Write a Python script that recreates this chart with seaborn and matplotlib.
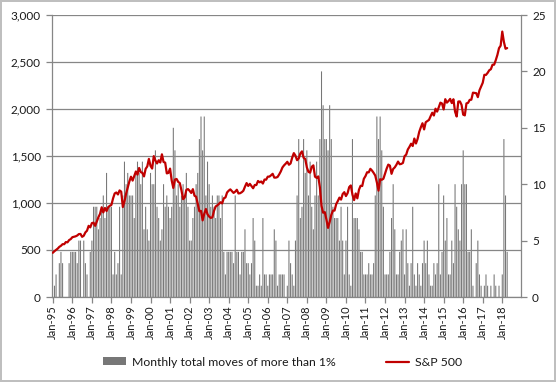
import numpy as np
import pandas as pd
import seaborn as sns
import matplotlib
matplotlib.use("Agg")
import matplotlib.pyplot as plt
from matplotlib.patches import Patch
from matplotlib.lines import Line2D
from matplotlib.ticker import FuncFormatter

# days per month with a move of more than 1%, Jan-95 .. Apr-18
moves = [
    0, 1, 2, 0, 3, 4, 3, 0, 0, 0, 3, 4,          # 1995
    4, 4, 4, 3, 5, 5, 0, 5, 3, 2, 0, 4,          # 1996
    5, 8, 8, 8, 6, 7, 8, 9, 7, 11, 8, 8,         # 1997
    8, 2, 4, 2, 3, 8, 2, 9, 12, 10, 11, 9,       # 1998
    9, 9, 7, 11, 12, 11, 10, 12, 6, 8, 6, 5,     # 1999
    11, 10, 10, 13, 8, 7, 5, 6, 10, 8, 9, 8,     # 2000
    7, 8, 15, 13, 9, 10, 8, 9, 10, 9, 11, 8,     # 2001
    5, 5, 7, 8, 10, 11, 14, 16, 13, 16, 9, 12,   # 2002
    10, 8, 9, 8, 7, 9, 9, 7, 9, 4, 2, 4,         # 2003
    4, 4, 4, 3, 9, 4, 4, 2, 4, 4, 6, 3,          # 2004
    3, 2, 3, 7, 5, 1, 1, 2, 1, 7, 2, 2,          # 2005
    1, 2, 2, 2, 6, 5, 1, 2, 2, 2, 2, 0,          # 2006
    1, 5, 3, 2, 1, 5, 9, 14, 7, 8, 14, 11,       # 2007
    13, 9, 12, 8, 6, 9, 12, 9, 14, 20, 17, 14,   # 2008
    14, 13, 17, 14, 8, 7, 7, 7, 5, 8, 5, 2,      # 2009
    5, 8, 2, 1, 14, 7, 7, 7, 6, 4, 4, 2,         # 2010
    2, 2, 3, 2, 2, 3, 9, 16, 14, 16, 13, 8,      # 2011
    2, 2, 2, 4, 7, 10, 6, 2, 2, 4, 5, 6,         # 2012
    2, 6, 3, 1, 3, 8, 2, 1, 3, 2, 1, 3,          # 2013
    5, 3, 5, 2, 1, 1, 3, 2, 3, 10, 2, 4,         # 2014
    9, 5, 7, 2, 2, 5, 3, 10, 8, 6, 5, 10,        # 2015
    13, 10, 10, 4, 4, 6, 1, 0, 3, 5, 2, 1,       # 2016
    0, 1, 2, 1, 0, 1, 0, 2, 1, 0, 1, 0,          # 2017
    2, 14, 9, 4,                                 # 2018
]

# S&P 500 month-end level
sp500 = [
    470.4, 487.4, 500.7, 514.7, 533.4, 544.8, 562.1, 561.9, 584.4, 581.5, 605.4, 615.9,
    636.0, 640.4, 645.5, 654.2, 669.1, 670.6, 639.9, 652.0, 687.3, 705.3, 757.0, 740.7,
    786.2, 790.8, 757.1, 801.3, 848.3, 885.1, 954.3, 899.5, 947.3, 914.6, 955.4, 970.4,
    980.3, 1049.3, 1101.8, 1111.8, 1090.8, 1133.8, 1120.7, 957.3, 1017.0, 1098.7, 1163.6, 1229.2,
    1279.6, 1238.3, 1286.4, 1335.2, 1301.8, 1372.7, 1328.7, 1320.4, 1282.7, 1362.9, 1388.9, 1469.3,
    1394.5, 1366.4, 1498.6, 1452.4, 1420.6, 1454.6, 1430.8, 1517.7, 1436.5, 1429.4, 1315.0, 1320.3,
    1366.0, 1239.9, 1160.3, 1249.5, 1255.8, 1224.4, 1211.2, 1133.6, 1040.9, 1059.8, 1139.5, 1148.1,
    1130.2, 1106.7, 1147.4, 1076.9, 1067.1, 989.8, 911.6, 916.1, 815.3, 885.8, 936.3, 879.8,
    855.7, 841.2, 848.2, 916.9, 963.6, 974.5, 990.3, 1008.0, 996.0, 1050.7, 1058.2, 1111.9,
    1131.1, 1144.9, 1126.2, 1107.3, 1120.7, 1140.8, 1101.7, 1104.2, 1114.6, 1130.2, 1173.8, 1211.9,
    1181.3, 1203.6, 1180.6, 1156.9, 1191.5, 1191.3, 1234.2, 1220.3, 1228.8, 1207.0, 1249.5, 1248.3,
    1280.1, 1280.7, 1294.8, 1310.6, 1270.1, 1270.2, 1276.7, 1303.8, 1335.9, 1377.9, 1400.6, 1418.3,
    1438.2, 1406.8, 1420.9, 1482.4, 1530.6, 1503.4, 1455.3, 1474.0, 1526.8, 1549.4, 1481.1, 1468.4,
    1378.6, 1330.6, 1322.7, 1385.6, 1400.4, 1280.0, 1267.4, 1282.8, 1166.4, 968.8, 896.2, 903.3,
    825.9, 735.1, 797.9, 872.8, 919.1, 919.3, 987.5, 1020.6, 1057.1, 1036.2, 1095.6, 1115.1,
    1073.9, 1104.5, 1169.4, 1186.7, 1089.4, 1030.7, 1101.6, 1049.3, 1141.2, 1183.3, 1180.6, 1257.6,
    1286.1, 1327.2, 1325.8, 1363.6, 1345.2, 1320.6, 1292.3, 1218.9, 1131.4, 1253.3, 1247.0, 1257.6,
    1312.4, 1365.7, 1408.5, 1397.9, 1310.3, 1362.2, 1379.3, 1406.6, 1440.7, 1412.2, 1416.2, 1426.2,
    1498.1, 1514.7, 1569.2, 1597.6, 1630.7, 1606.3, 1685.7, 1633.0, 1681.6, 1756.5, 1805.8, 1848.4,
    1782.6, 1859.5, 1872.3, 1884.0, 1923.6, 1960.2, 1930.7, 2003.4, 1972.3, 2018.1, 2067.6, 2058.9,
    1995.0, 2104.5, 2067.9, 2085.5, 2107.4, 2063.1, 2103.8, 1972.2, 1920.0, 2079.4, 2080.4, 2043.9,
    1940.2, 1932.2, 2059.7, 2065.3, 2097.0, 2098.9, 2173.6, 2171.0, 2168.3, 2126.2, 2198.8, 2238.8,
    2278.9, 2363.6, 2362.7, 2384.2, 2411.8, 2423.4, 2470.3, 2471.7, 2519.4, 2575.3, 2647.6, 2673.6,
    2823.8, 2713.8, 2640.9, 2648.1,
]

months = pd.date_range("1995-01-01", periods=len(moves), freq="MS")
month_labels = list(months.strftime("%b-%y"))
axis_months = 288  # date axis runs to Dec-18

df = pd.DataFrame({"pos": np.arange(len(moves)), "moves": moves, "sp500": sp500})

bar_col = "#777777"
line_col = "#C00000"
axis_col = "#868686"
text_col = "#1a1a1a"

sns.set_theme(style="white")
plt.rcParams["font.family"] = ["Lato", "DejaVu Sans"]

fig = plt.figure(figsize=(5.56, 3.82), dpi=100)
fig.patch.set_edgecolor("#bfbfbf")
fig.patch.set_linewidth(1.5)

ax = fig.add_axes([52 / 556, 85 / 382, 469 / 556, 282 / 382])
sns.barplot(data=df, x="pos", y="moves", color=bar_col, saturation=1,
            width=0.65, linewidth=0, ax=ax, zorder=2)
# bars are about one pixel wide, don't let them snap away
for p in ax.patches:
    p.set_snap(False)

ax2 = ax.twinx()
sns.lineplot(data=df, x="pos", y="sp500", color=line_col, linewidth=1.6, ax=ax2)

# bars belong to right axis, S&P to the left one
ax.yaxis.tick_right()
ax2.yaxis.tick_left()
ax.set_ylim(0, 25)
ax.set_yticks(range(0, 26, 5))
ax2.set_ylim(0, 3000)
ax2.set_yticks(range(0, 3001, 500))
ax2.yaxis.set_major_formatter(FuncFormatter(lambda v, p: f"{v:,.0f}"))
ax2.yaxis.grid(True, color=axis_col, linewidth=0.9)

ax.set_xlim(-0.5, axis_months - 0.5)
ax.set_xticks(range(0, axis_months - 11, 12))
ax.set_xticklabels(month_labels[::12], rotation=90)

for a in (ax, ax2):
    a.set_xlabel("")
    a.set_ylabel("")
    for s in a.spines.values():
        s.set_visible(False)
for s in ("left", "right", "bottom"):
    ax.spines[s].set_visible(True)
    ax.spines[s].set_color(axis_col)
    ax.spines[s].set_linewidth(0.9)

ax.tick_params(axis="x", bottom=True, direction="out", length=4, width=0.9,
               color=axis_col, labelsize=8, labelcolor=text_col, pad=2)
ax.tick_params(axis="y", right=True, left=False, labelright=True, labelleft=False,
               direction="out", length=4, width=0.9, color=axis_col,
               labelsize=8.5, labelcolor=text_col, pad=4)
ax2.tick_params(axis="y", left=True, right=False, labelleft=True, labelright=False,
                direction="out", length=4, width=0.9, color=axis_col,
                labelsize=8.5, labelcolor=text_col, pad=4)

handles = [Patch(facecolor=bar_col, edgecolor="none"),
           Line2D([0], [0], color=line_col, linewidth=1.6)]
fig.legend(handles, ["Monthly total moves of more than 1%", "S&P 500"],
           loc="center", bbox_to_anchor=(0.508, 0.052), ncol=2, frameon=False,
           fontsize=8.8, handlelength=1.9, handleheight=0.6, handletextpad=0.45,
           columnspacing=4.1, labelcolor=text_col)

fig.savefig("out.png", dpi=100, edgecolor=fig.get_edgecolor())
